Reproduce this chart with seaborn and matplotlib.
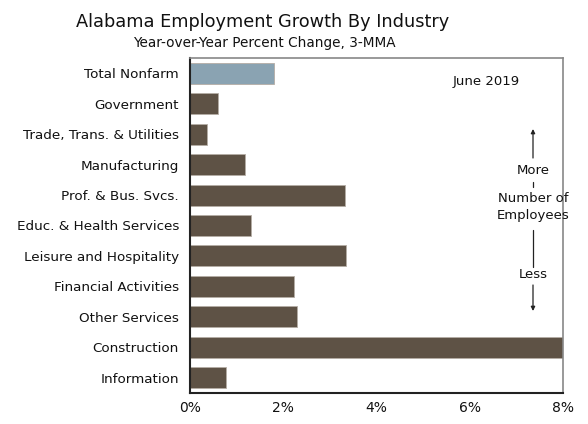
import matplotlib
matplotlib.use("Agg")
import matplotlib.pyplot as plt
import seaborn as sns
import pandas as pd
from matplotlib.ticker import FuncFormatter

industries = [
    "Total Nonfarm",
    "Government",
    "Trade, Trans. & Utilities",
    "Manufacturing",
    "Prof. & Bus. Svcs.",
    "Educ. & Health Services",
    "Leisure and Hospitality",
    "Financial Activities",
    "Other Services",
    "Construction",
    "Information",
]
growth_pct = [1.80, 0.61, 0.36, 1.17, 3.33, 1.30, 3.35, 2.23, 2.30, 8.0, 0.77]
x_ticks = [0, 2, 4, 6, 8]

total_color = "#8AA3B2"
industry_color = "#5E5245"
palette = {name: (total_color if name == "Total Nonfarm" else industry_color)
           for name in industries}

df = pd.DataFrame({"industry": industries, "growth": growth_pct})

sns.set_style("white")
plt.rcParams["font.family"] = ["DejaVu Sans"]

fig = plt.figure(figsize=(5.88, 4.24), dpi=100)
ax = fig.add_axes([190 / 588, 1 - 393 / 424, 373 / 588, 335 / 424])

sns.barplot(data=df, x="growth", y="industry", hue="industry", palette=palette,
            order=industries, hue_order=industries, orient="h", legend=False,
            width=0.69, edgecolor="#B5ADA5", linewidth=0.6, saturation=1, ax=ax)

ax.set_xlim(0, 8)
ax.set_ylim(len(industries) - 0.5, -0.5)
ax.set_xticks(x_ticks)
ax.xaxis.set_major_formatter(FuncFormatter(lambda v, _: f"{v:.0f}%"))
ax.set_xlabel("")
ax.set_ylabel("")
ax.tick_params(axis="x", direction="in", length=4, width=1, colors="#222222",
               labelsize=10, pad=6, labelcolor="#111111")
ax.tick_params(axis="y", length=0, labelsize=9.7, pad=8, labelcolor="#111111")

for side in ["left", "bottom"]:
    ax.spines[side].set_color("#222222")
    ax.spines[side].set_linewidth(1.5)
for side in ["top", "right"]:
    ax.spines[side].set_color("#888888")
    ax.spines[side].set_linewidth(1.2)

fig.text(263 / 588, 1 - 22 / 424, "Alabama Employment Growth By Industry",
         ha="center", va="center", fontsize=12.8, color="#111111")
fig.text(264 / 588, 1 - 43 / 424, "Year-over-Year Percent Change, 3-MMA",
         ha="center", va="center", fontsize=9.85, color="#111111")

def fx(px):
    return px / 588

def fy(py):
    return 1 - py / 424

tr = fig.transFigure
fig.text(fx(486), fy(82), "June 2019", ha="center", va="center", fontsize=9.5,
         color="#111111")
ax_x = 533
ax.annotate("", xy=(fx(ax_x), fy(129)), xytext=(fx(ax_x), fy(158)),
            xycoords=tr, textcoords=tr,
            arrowprops=dict(arrowstyle="-|>", color="#222222", lw=0.9,
                            mutation_scale=6, shrinkA=0, shrinkB=0))
fig.text(fx(ax_x), fy(170), "More", ha="center", va="center", fontsize=9.5,
         color="#111111")
fig.add_artist(plt.Line2D([fx(ax_x), fx(ax_x)], [fy(182), fy(187)],
                          transform=tr, color="#222222", lw=0.9))
fig.text(fx(ax_x), fy(207), "Number of\nEmployees", ha="center", va="center",
         fontsize=9.5, color="#111111", linespacing=1.3)
fig.add_artist(plt.Line2D([fx(ax_x), fx(ax_x)], [fy(230), fy(267)],
                          transform=tr, color="#222222", lw=0.9))
fig.text(fx(ax_x), fy(275), "Less", ha="center", va="center", fontsize=9.5,
         color="#111111")
ax.annotate("", xy=(fx(ax_x), fy(311)), xytext=(fx(ax_x), fy(285)),
            xycoords=tr, textcoords=tr,
            arrowprops=dict(arrowstyle="-|>", color="#222222", lw=0.9,
                            mutation_scale=6, shrinkA=0, shrinkB=0))

fig.savefig("out.png", dpi=100)
